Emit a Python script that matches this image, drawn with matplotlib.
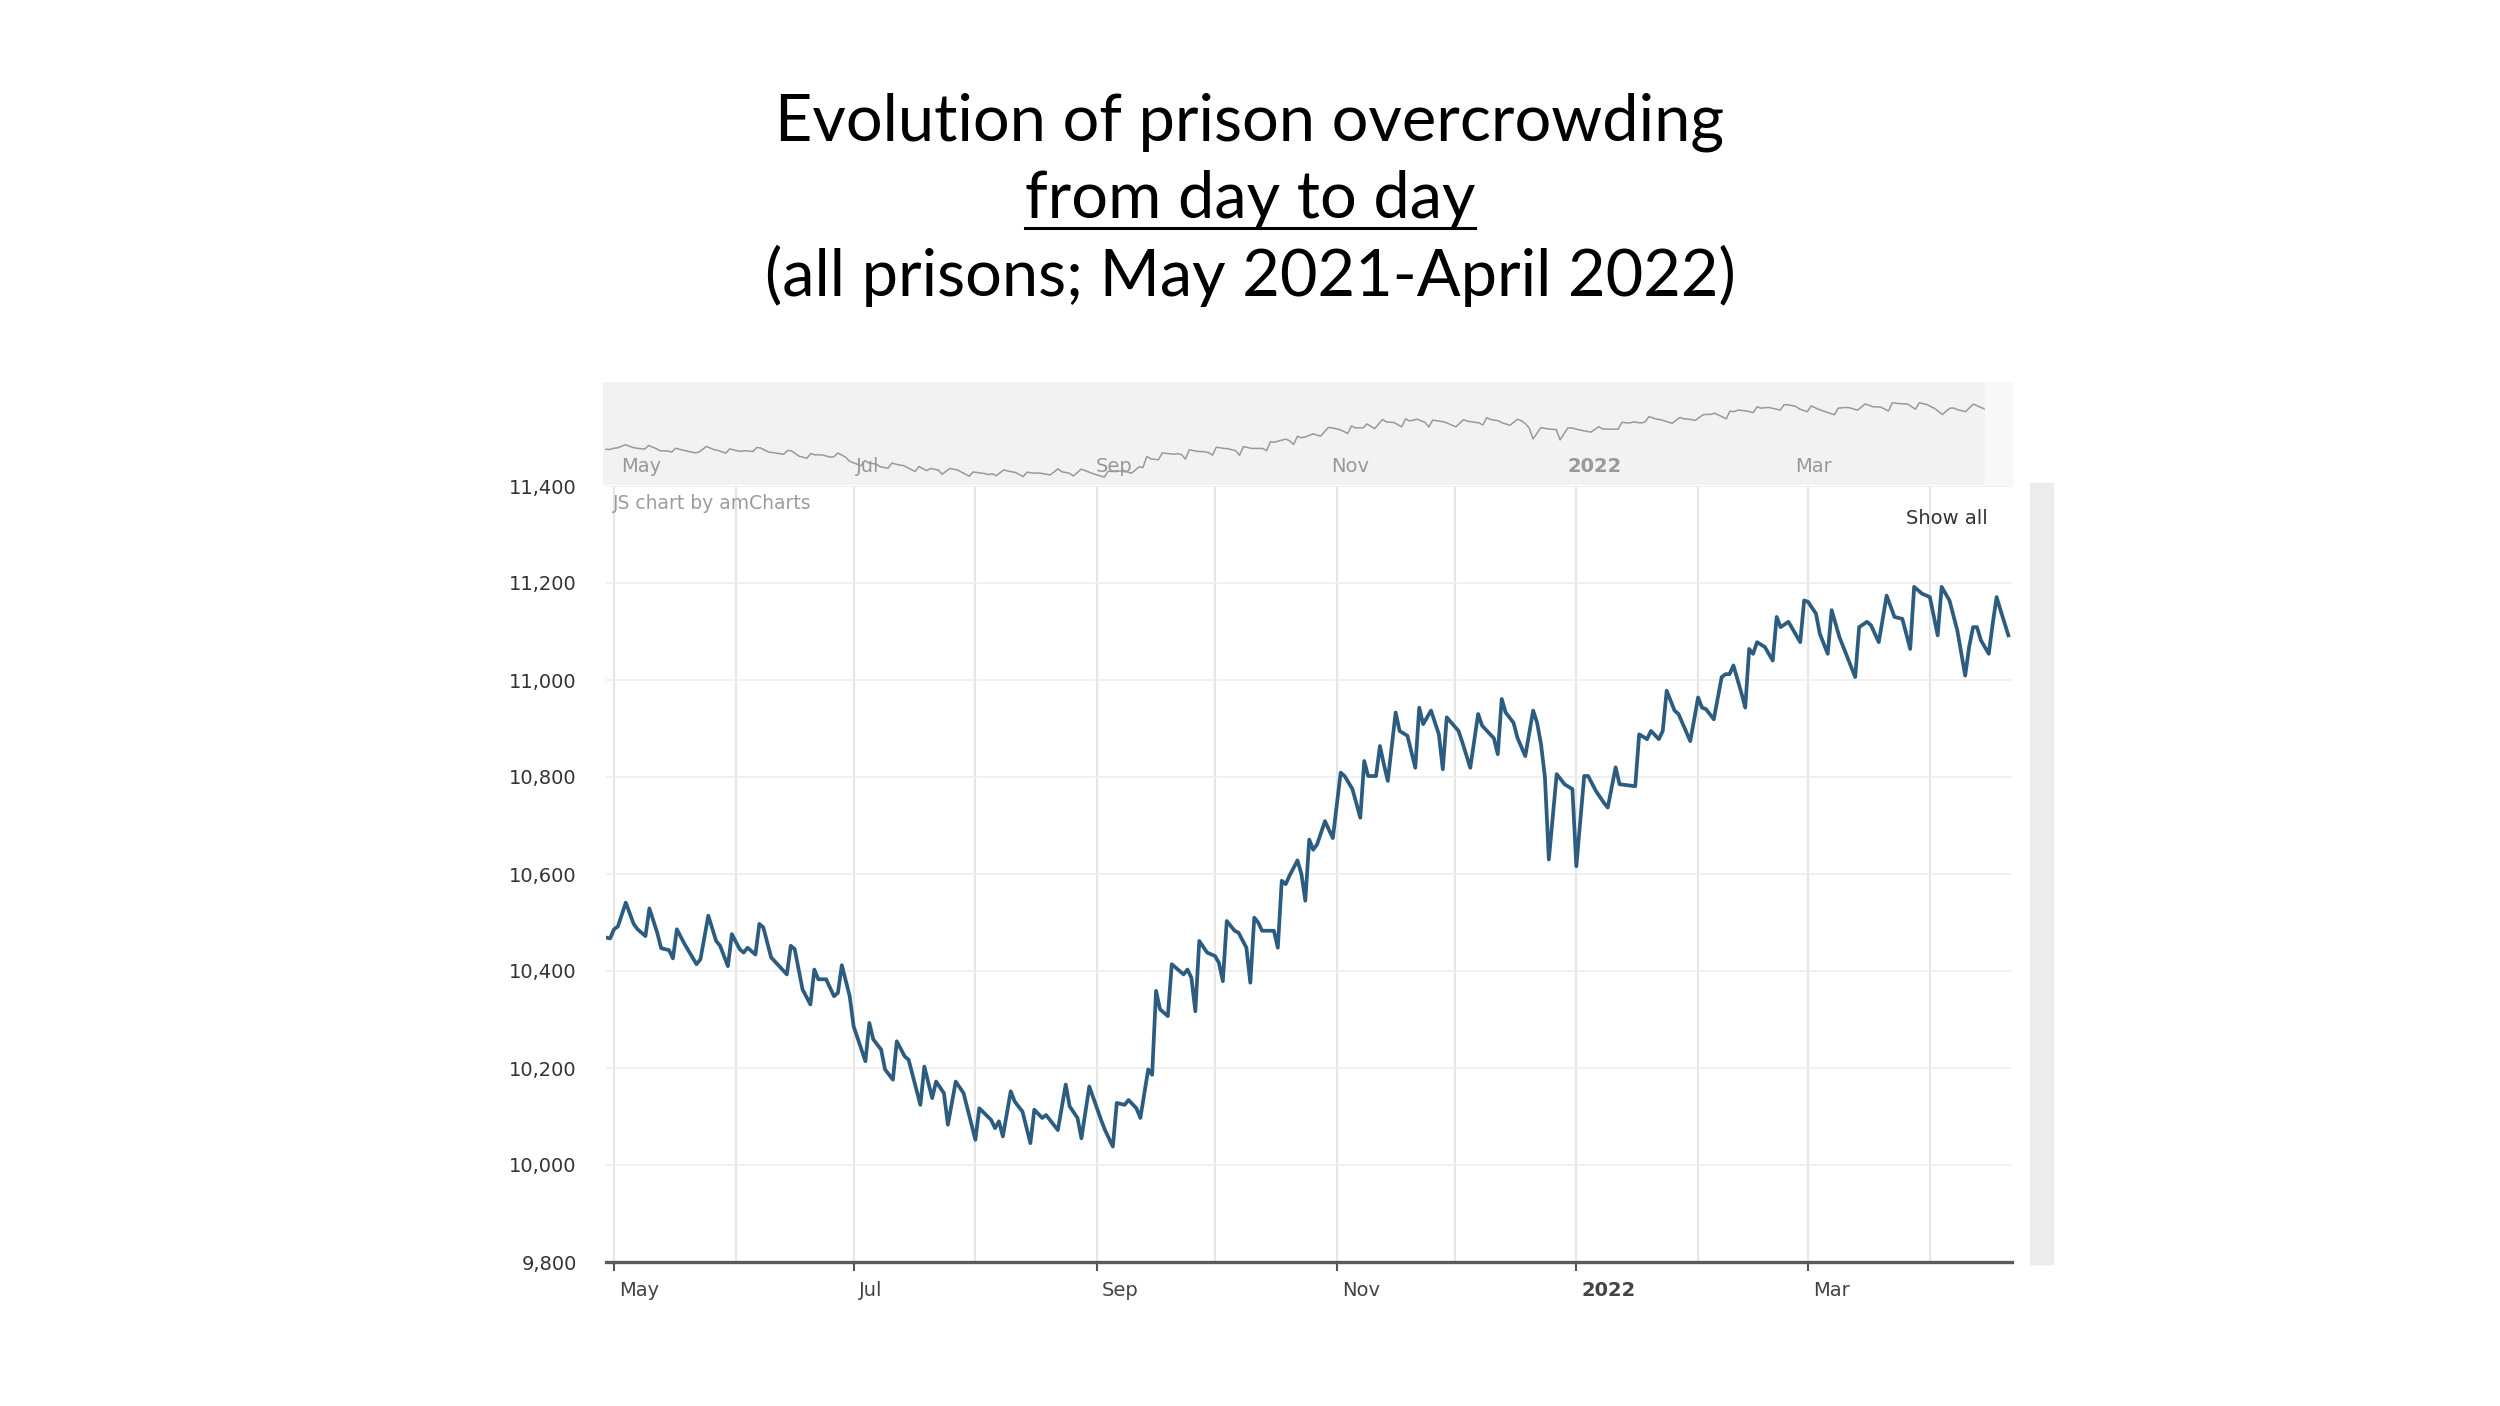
import numpy as np
import matplotlib
matplotlib.use('Agg')
import matplotlib.pyplot as plt
import matplotlib.dates as mdates
import matplotlib.transforms as mtransforms
from matplotlib.patches import Rectangle
from matplotlib.lines import Line2D

# days since 1 May 2021 (turning points of the line) and prison population
day = [-2, -1, 0, 1, 3, 5, 6, 8, 9, 11, 12, 14, 15, 16, 18, 21, 22, 24, 26, 27,
       29, 30, 32, 33, 34, 36, 37, 38, 40, 44, 45, 46, 48, 50, 51, 52, 54, 56, 57, 58,
       60, 61, 64, 65, 66, 68, 69, 71, 72, 74, 75, 78, 79, 81, 82, 84, 85, 87, 89, 92,
       93, 96, 97, 98, 99, 101, 102, 104, 106, 107, 109, 110, 113, 115, 116, 118, 119, 121,
       124, 125, 127, 128, 130, 131, 133, 134, 136, 137, 138, 139, 141, 142, 144, 145, 146,
       147, 148, 149, 151, 153, 154, 155, 156, 158, 159, 161, 162, 163, 164, 165, 168, 169,
       170, 171, 172, 174, 175, 176,
       177, 178, 179, 181, 183, 185, 186, 188, 190, 191, 192, 194, 195, 196, 197, 199, 200,
       202, 204, 205, 206, 208, 210, 211, 212, 215, 216, 218, 220, 221, 224, 225, 226, 227,
       229, 230, 232, 234, 235, 236, 237, 238, 240, 242, 244, 245, 247, 248, 250, 252, 253,
       255, 256, 260, 261, 263, 264, 266, 267, 268, 270, 271, 274, 276, 277, 278, 280, 282,
       283, 284, 285, 287, 288, 289, 290, 291, 293, 295, 296, 297, 299, 300, 302, 303, 304,
       306, 307, 309, 310, 312, 314, 316, 317, 319, 320, 322, 324, 326, 328, 330, 331, 333,
       335, 337, 338, 340, 342, 344, 345, 346, 347, 348, 350, 351, 352, 353, 355]

population = [10469, 10467, 10486, 10492, 10541, 10497, 10486, 10472, 10529, 10479, 10447, 10443,
              10426, 10486, 10455, 10414, 10424, 10514, 10462, 10452,
              10410, 10476, 10445, 10438, 10448, 10434, 10497, 10490, 10428, 10393, 10452, 10445,
              10362, 10331, 10403, 10383, 10383, 10348, 10355, 10412,
              10348, 10286, 10214, 10293, 10259, 10238, 10197, 10176, 10255, 10224, 10217, 10124,
              10203, 10138, 10172, 10148, 10083, 10172, 10148, 10052,
              10117, 10093, 10076, 10090, 10059, 10152, 10131, 10110, 10045, 10114, 10097, 10103,
              10072, 10166, 10121, 10097, 10055, 10162,
              10093, 10072, 10038, 10128, 10124, 10134, 10117, 10097, 10197, 10186, 10359, 10321,
              10307, 10414, 10400, 10393, 10403,
              10386, 10317, 10462, 10438, 10431, 10417, 10379, 10503, 10483, 10479, 10448, 10376,
              10510, 10500, 10483, 10483, 10448,
              10586, 10579, 10597, 10628, 10600, 10545,
              10671, 10650, 10661, 10709, 10674, 10809, 10802, 10775, 10716, 10833, 10802, 10802,
              10864, 10826, 10792, 10933, 10895,
              10885, 10819, 10943, 10909, 10937, 10888, 10816, 10923, 10895, 10871, 10819, 10930,
              10906, 10880, 10847, 10961, 10933,
              10912, 10881, 10843, 10937, 10912, 10868, 10800, 10630, 10806, 10785, 10775, 10616,
              10802, 10802, 10771, 10747, 10737,
              10820, 10785, 10781, 10888, 10878, 10895, 10878, 10895, 10978, 10937, 10930, 10874,
              10964, 10943, 10940, 10919, 11006,
              11012, 11012, 11030, 10974, 10943, 11064, 11054, 11078, 11068, 11040, 11130, 11109,
              11120, 11106, 11078, 11164, 11161,
              11137, 11095, 11054, 11144, 11088, 11047, 11006, 11109, 11120, 11113, 11078, 11174,
              11130, 11126, 11064, 11192, 11178,
              11171, 11092, 11192, 11164, 11102, 11009, 11068, 11109, 11109, 11082, 11054, 11116,
              11171, 11144, 11092]

start = np.datetime64('2021-05-01T00', 'h')
tick_dates = np.array(['2021-05-01', '2021-07-01', '2021-09-01', '2021-11-01',
                       '2022-01-01', '2022-03-01'], dtype='datetime64[D]')
tick_labels = ['May', 'Jul', 'Sep', 'Nov', '2022', 'Mar']
y_ticks = list(range(9800, 11401, 200))

title_lines = ['Evolution of prison overcrowding',
               'from day to day',
               '(all prisons; May 2021-April 2022)']

W, H = 2500, 1406


def fx(px):
    return px / W


def fy(py):
    return 1 - py / H


fig = plt.figure(figsize=(W / 100, H / 100), dpi=100)
plt.rcParams['font.family'] = ['DejaVu Sans']

dates = start + np.array(day).astype('timedelta64[D]')

# main chart
ax = fig.add_axes([fx(606), fy(1262), fx(2012) - fx(606), fy(486) - fy(1262)])
ax.plot(dates, population, color='#2c5d80', lw=2.7, solid_joinstyle='round')
ax.set_xlim(start - np.timedelta64(49, 'h'), start + np.timedelta64(8542, 'h'))
ax.set_ylim(9800, 11400)

ax.set_yticks(y_ticks, [f'{v:,}' for v in y_ticks])
ax.set_xticks(tick_dates, tick_labels)
ax.xaxis.set_minor_locator(mdates.MonthLocator())
ax.set_axisbelow(True)
ax.grid(axis='x', which='both', color='#e6e6e6', lw=1.5)
ax.grid(axis='y', color='#eeeeee', lw=1.2)

ax.tick_params(axis='x', which='major', length=6.5, width=1.5, color='#555555',
               pad=7, labelsize=14, labelcolor='#444444')
ax.tick_params(axis='x', which='minor', length=0)
ax.tick_params(axis='y', length=0, pad=21, labelsize=14, labelcolor='#333333')
shift = mtransforms.ScaledTranslation(5 / 100, 0, fig.dpi_scale_trans)
for lab in ax.get_xticklabels():
    lab.set_horizontalalignment('left')
    lab.set_transform(lab.get_transform() + shift)
    if lab.get_text() == '2022':
        lab.set_fontweight('bold')

for s in ['top', 'right', 'left']:
    ax.spines[s].set_visible(False)
ax.spines['bottom'].set_color('#5a5a5a')
ax.spines['bottom'].set_linewidth(2.4)

# navigator strip on top
nav = fig.add_axes([fx(603), fy(485), fx(1985) - fx(603), fy(382) - fy(485)])
nav.set_facecolor('#f2f2f2')
nav.plot(dates, population, color='#999999', lw=1.1)
nav.set_xlim(start - np.timedelta64(67, 'h'), start + np.timedelta64(355 * 24, 'h'))
nav.set_ylim(9915, 11515)
nav.set_xticks([])
nav.set_yticks([])
for s in nav.spines.values():
    s.set_visible(False)
trans = mtransforms.offset_copy(nav.get_xaxis_transform(), fig=fig, x=7, units='dots')
for d, lab in zip(tick_dates, tick_labels):
    nav.text(mdates.date2num(d), 0.175, lab, transform=trans, ha='left', va='center',
             fontsize=14, color='#999999', fontweight='bold' if lab == '2022' else 'normal')

fig.patches.append(Rectangle((fx(1985), fy(485)), fx(2013) - fx(1985), fy(382) - fy(485),
                             transform=fig.transFigure, color='#f8f8f8', zorder=0))
# vertical scrollbar on the right
fig.patches.append(Rectangle((fx(2030), fy(1264)), fx(2053) - fx(2030), fy(483) - fy(1264),
                             transform=fig.transFigure, color='#ececec', zorder=0))

fig.text(fx(613), fy(503), 'JS chart by amCharts', ha='left', va='center',
         fontsize=13.5, color='#9c9c9c')
fig.text(fx(1988), fy(518), 'Show all', ha='right', va='center',
         fontsize=14, color='#333333')

# title, sized so the first line is as wide as in the slide
fs = 40
t1 = fig.text(0.5, fy(140), title_lines[0], ha='center', va='baseline',
              fontsize=fs, family='Lato', color='black')
fig.canvas.draw()
r = fig.canvas.get_renderer()
fs = fs * 948 / t1.get_window_extent(r).width
t1.set_fontsize(fs)
t2 = fig.text(0.5, fy(218), title_lines[1], ha='center', va='baseline',
              fontsize=fs, family='Lato', color='black')
t3 = fig.text(0.5, fy(296), title_lines[2], ha='center', va='baseline',
              fontsize=fs, family='Lato', color='black')
fig.canvas.draw()
bb = t2.get_window_extent(r)
fig.add_artist(Line2D([bb.x0 / W, bb.x1 / W], [fy(228), fy(228)],
                      transform=fig.transFigure, color='black', lw=2.2))

fig.savefig('out.png', dpi=100, facecolor='white')
